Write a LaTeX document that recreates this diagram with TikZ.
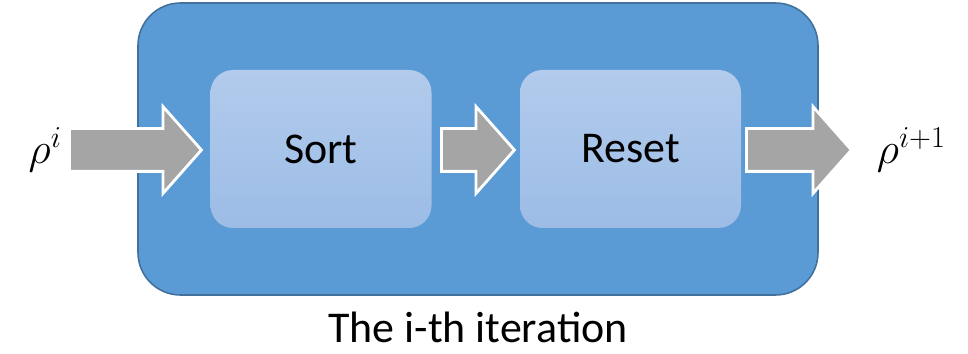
\documentclass[tikz,border=0pt]{standalone}
\usepackage{fontspec}
\setsansfont{Carlito}
\usepackage{xcolor}
\usepackage{tikz}
\usetikzlibrary{
	shapes.arrows,
	arrows.meta,
	positioning,
	calc
}
\definecolor{outerblue}{HTML}{5B9BD5}
\definecolor{outerline}{HTML}{41719C}
\definecolor{innertop}{HTML}{B2CBEC}
\definecolor{innerbot}{HTML}{9CBCE6}
\definecolor{arrowgray}{HTML}{A5A5A5}

\begin{document}
\begin{tikzpicture}[
        >=latex,
        font=\sffamily\fontsize{25}{30}\selectfont,
        % outer iteration frame
        frame/.style={
            rectangle,
            draw=outerline,
            line width=0.9pt,
            fill=outerblue,
            rounded corners=0.85cm,
            minimum width=13.6cm,
            minimum height=5.84cm
        },
        % inner process box
        stage/.style={
            rectangle,
            rounded corners=0.45cm,
            top color=innertop,
            bottom color=innerbot,
            minimum width=4.42cm,
            minimum height=3.16cm,
            align=center
        },
        % grey block arrow
        blockarr/.style={
            single arrow,
            draw=white,
            line width=1.6pt,
            fill=arrowgray,
            inner xsep=0pt,
            inner ysep=0.4cm,
            single arrow head extend=0.44cm,
            single arrow tip angle=97,
            anchor=tail
        }
    ]

        \useasboundingbox (0,0) rectangle (19.36,-7.08);

        % ====================
        % Frame and stages
        % ====================

        \node[frame] (iter) at (9.56, -2.98) {};

        \node[stage] (sort) at (6.42, -2.98) {Sort};
        \node[stage] (reset) at (12.61, -2.98) {Reset};

        % ====================
        % Block arrows (placed by their tail)
        % ====================

        \node[blockarr, minimum height=2.64cm] (inarr) at (1.36, -3.0) {};
        \node[blockarr, minimum height=1.46cm] (midarr) at (8.8, -3.0) {};
        \node[blockarr, minimum height=2.1cm] (outarr) at (14.9, -3.0) {};

        % ====================
        % Labels
        % ====================

        \node[left=0cm of inarr.tail, font=\fontsize{27}{30}\selectfont] (rhoin) {$\rho^{i}$};
        \node[right=0.35cm of outarr.tip, font=\fontsize{27}{30}\selectfont] (rhoout) {$\rho^{i+1}$};

        \node[below=0.2cm of iter.south] (cap) {The i-th iteration};

    \end{tikzpicture}
\end{document}
